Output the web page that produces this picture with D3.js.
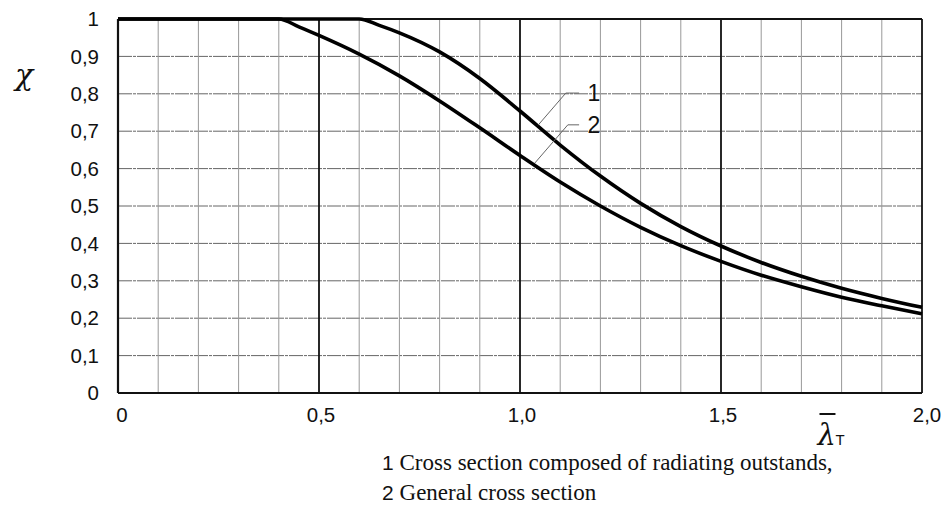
<!DOCTYPE html>
<html>
<head>
<meta charset="utf-8">
<script src="https://cdn.jsdelivr.net/npm/d3@7"></script>
<style>
  body { margin: 0; background: #fff; }
  svg { display: block; }
  .tick-label { font-family: "Liberation Sans", Arial, sans-serif; font-size: 20.5px; fill: #111; }
  .serif { font-family: "Liberation Serif", "Times New Roman", serif; fill: #111; }
</style>
</head>
<body>
<div id="chart"></div>
<script>
// slenderness values and reduction factors
var lambda1 = [0, 0.6, 0.65, 0.7, 0.8, 0.9, 1.0, 1.1, 1.2, 1.3, 1.4, 1.5, 1.6, 1.7, 1.8, 1.9, 2.0];
var chi1    = [1, 1, 0.983, 0.963, 0.912, 0.841, 0.754, 0.663, 0.580, 0.507, 0.445, 0.393, 0.349, 0.312, 0.280, 0.253, 0.229];

var lambda2 = [0, 0.4, 0.45, 0.5, 0.6, 0.7, 0.8, 0.9, 1.0, 1.1, 1.2, 1.3, 1.4, 1.5, 1.6, 1.7, 1.8, 1.9, 2.0];
var chi2    = [1, 1, 0.979, 0.956, 0.906, 0.848, 0.781, 0.709, 0.635, 0.564, 0.500, 0.443, 0.394, 0.352, 0.315, 0.284, 0.256, 0.233, 0.212];

var xTicks = [0, 0.5, 1.0, 1.5, 2.0];
var xTickLabels = ["0", "0,5", "1,0", "1,5", "2,0"];
var yTicks = [0, 0.1, 0.2, 0.3, 0.4, 0.5, 0.6, 0.7, 0.8, 0.9, 1];
var yTickLabels = ["0", "0,1", "0,2", "0,3", "0,4", "0,5", "0,6", "0,7", "0,8", "0,9", "1"];

var curveNames = ["1", "2"];
var legendLines = ["Cross section composed of radiating outstands,", "General cross section"];

var margin = {top: 19, right: 23, bottom: 131, left: 118},
    width = 945 - margin.left - margin.right,
    height = 524 - margin.top - margin.bottom;

var x = d3.scaleLinear().domain([0, 2]).range([0, width]);
var y = d3.scaleLinear().domain([0, 1]).range([height, 0]);

var svg = d3.select("#chart").append("svg")
    .attr("width", 945)
    .attr("height", 524)
  .append("g")
    .attr("transform", "translate(" + margin.left + "," + margin.top + ")");

// grid
var gridX = d3.range(1, 20).map(function(i) { return i / 10; });
var gridY = d3.range(1, 10).map(function(i) { return i / 10; });

svg.selectAll(".hgrid")
    .data(gridY).enter()
  .append("line")
    .attr("x1", 0).attr("x2", width)
    .attr("y1", function(d) { return y(d); })
    .attr("y2", function(d) { return y(d); })
    .style("stroke", "#666")
    .style("stroke-width", 1)
    .style("stroke-dasharray", "14,1,3,1");

svg.selectAll(".vgrid")
    .data(gridX).enter()
  .append("line")
    .attr("x1", function(d) { return x(d); })
    .attr("x2", function(d) { return x(d); })
    .attr("y1", 0).attr("y2", height)
    .style("stroke", function(d) { return Math.round(d * 10) % 5 == 0 ? "#111" : "#999"; })
    .style("stroke-width", function(d) { return Math.round(d * 10) % 5 == 0 ? 1.8 : 1; });

// frame
svg.append("line").attr("x1", 0).attr("x2", 0).attr("y1", 0).attr("y2", height)
    .style("stroke", "#111").style("stroke-width", 2.2);
svg.append("line").attr("x1", 0).attr("x2", width).attr("y1", height).attr("y2", height)
    .style("stroke", "#111").style("stroke-width", 1.8);
svg.append("line").attr("x1", width).attr("x2", width).attr("y1", 0).attr("y2", height)
    .style("stroke", "#111").style("stroke-width", 1.8);
svg.append("line").attr("x1", 0).attr("x2", width).attr("y1", 0).attr("y2", 0)
    .style("stroke", "#111").style("stroke-width", 1.8);

// curves
var line = d3.line()
    .x(function(d) { return x(d[0]); })
    .y(function(d) { return y(d[1]); })
    .curve(d3.curveMonotoneX);

[[lambda1, chi1], [lambda2, chi2]].forEach(function(s) {
    svg.append("path")
        .datum(d3.zip(s[0], s[1]))
        .attr("d", line)
        .attr("fill", "none")
        .style("stroke", "#000")
        .style("stroke-width", 3.6)
        .style("stroke-linejoin", "round");
});

// leader lines and curve numbers
var leaders = [
    [[1.045, 0.716], [1.114, 0.802], [1.147, 0.802]],
    [[1.037, 0.615], [1.119, 0.717], [1.147, 0.717]]
];
var leaderLine = d3.line()
    .x(function(d) { return x(d[0]); })
    .y(function(d) { return y(d[1]); });

leaders.forEach(function(l, i) {
    svg.append("path")
        .attr("d", leaderLine(l))
        .attr("fill", "none")
        .style("stroke", "#666")
        .style("stroke-width", 1);
    svg.append("text")
        .attr("class", "tick-label")
        .attr("x", x(1.168))
        .attr("y", y(l[2][1]) + 8)
        .style("font-size", "23px")
        .text(curveNames[i]);
});

// y tick labels
svg.selectAll(".ylab")
    .data(yTicks).enter()
  .append("text")
    .attr("class", "tick-label")
    .attr("x", -19)
    .attr("y", function(d) { return y(d); })
    .attr("dy", "0.35em")
    .attr("text-anchor", "end")
    .text(function(d, i) { return yTickLabels[i]; });

// x tick labels
svg.selectAll(".xlab")
    .data(xTicks).enter()
  .append("text")
    .attr("class", "tick-label")
    .attr("x", function(d) { return x(d) + (d == 0 ? 4 : d == 2 ? 5 : 2); })
    .attr("y", height + 29)
    .attr("text-anchor", "middle")
    .text(function(d, i) { return xTickLabels[i]; });

// axis titles
svg.append("text")
    .attr("x", -103)
    .attr("y", 66)
    .style("font-family", "'DejaVu Serif', serif")
    .style("font-size", "30px")
    .style("font-style", "italic")
    .style("fill", "#111")
    .text("\u03c7");

var lx = x(1.74), ly = height + 52;
svg.append("text")
    .attr("x", lx)
    .attr("y", ly)
    .style("font-family", "'DejaVu Serif', serif")
    .style("font-size", "29px")
    .style("font-style", "italic")
    .style("fill", "#111")
    .text("\u03bb");
svg.append("line")
    .attr("x1", lx + 2).attr("x2", lx + 18)
    .attr("y1", ly - 31).attr("y2", ly - 31)
    .style("stroke", "#111").style("stroke-width", 2);
svg.append("text")
    .attr("class", "tick-label")
    .attr("x", lx + 18)
    .attr("y", ly)
    .style("font-size", "15px")
    .text("T");

// legend
legendLines.forEach(function(t, i) {
    var g = svg.append("text")
        .attr("x", 382 - margin.left)
        .attr("y", 470 - margin.top + i * 30);
    g.append("tspan")
        .attr("class", "tick-label")
        .style("font-size", "21px")
        .text(curveNames[i] + " ");
    g.append("tspan")
        .attr("class", "serif")
        .style("font-size", "23px")
        .text(t);
});
</script>
</body>
</html>
